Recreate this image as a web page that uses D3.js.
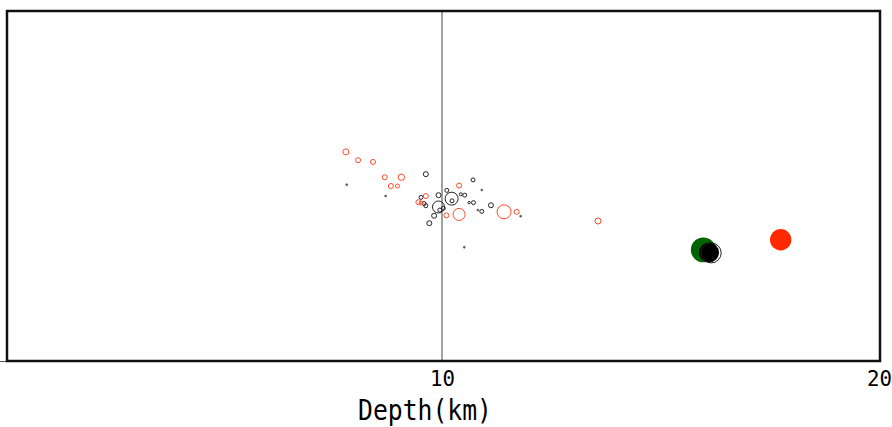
<!DOCTYPE html>
<html><head><meta charset="utf-8">
<script src="https://cdn.jsdelivr.net/npm/d3@7"></script>
<style>html,body{margin:0;padding:0;background:#fff;}svg{display:block;}</style>
</head><body>
<script>
// Data: [depth km, offset, magnitude]
const redOpen = [
 [7.80,4.78,0.67],[8.08,4.59,0.5],[8.42,4.55,0.5],[8.69,4.20,0.5],[9.07,4.20,0.73],
 [8.83,4.00,0.5],[8.98,4.00,0.33],[9.63,3.77,0.5],[9.46,3.63,0.5],[9.52,3.61,0.33],
 [10.39,4.01,0.5],[10.10,3.33,0.5],[10.39,3.35,1.67],[11.42,3.41,2.0],[11.71,3.41,0.5],
 [13.57,3.20,0.67]
];
const blackOpen = [
 [9.63,4.27,0.5],[9.92,3.79,0.5],[10.11,3.90,0.33],[10.22,3.71,1.83],[10.23,3.66,0.33],
 [9.52,3.74,0.33],[9.59,3.60,0.33],[9.63,3.55,0.33],[9.92,3.52,1.67],[9.82,3.32,0.5],
 [9.95,3.45,0.33],[10.03,3.49,0.33],[9.71,3.15,0.5],[10.71,4.14,0.33],[10.52,3.79,0.33],
 [10.43,3.81,0.17],[10.72,3.62,0.33],[10.62,3.62,0.07],[11.12,3.56,0.5],[10.91,3.42,0.33],
 [16.16,2.47,3.0]
];
const tinyDots = [
 [7.82,4.03,0],[8.71,3.77,0],[10.91,3.91,0],[10.82,3.45,0],[10.51,2.60,0],[11.80,3.31,0]
];
const mainEvents = [
 {depth:15.98, offset:2.54, mag:3.83, color:"#006400"},
 {depth:16.11, offset:2.48, mag:3.0, color:"#000000"},
 {depth:17.75, offset:2.77, mag:3.23, color:"#ff2a00"}
];
const xTicks = [10, 20];
const xLabel = "Depth(km)";

const W = 892, H = 427;
const svg = d3.select("body").append("svg").attr("width", W).attr("height", H);
const x = d3.scaleLinear().domain([0, 20]).range([5, 879]);
const y = d3.scaleLinear().domain([0, 8]).range([361, 11]);
const r = d3.scaleLinear().domain([0, 4]).range([1, 13]);

// vertical reference line at 10 km
svg.append("line").attr("x1", x(10)).attr("x2", x(10)).attr("y1", 11).attr("y2", 361)
  .attr("stroke", "#444").attr("stroke-width", 1);

// y axis stub tick
const yAxis = d3.axisLeft(y).tickValues([0]).tickSize(6).tickFormat("");
const gy = svg.append("g").attr("transform", "translate(6,0)").call(yAxis);
gy.select(".domain").remove();
gy.selectAll("line").attr("stroke", "#555");

// x axis
const xAxis = d3.axisBottom(x).tickValues(xTicks).tickSize(0).tickPadding(5).tickFormat(d3.format("d"));
const gx = svg.append("g").attr("transform", "translate(0,361)").call(xAxis);
gx.select(".domain").remove();
gx.selectAll("text").attr("font-family", "DejaVu Sans Mono").attr("font-size", 22).attr("fill", "#000")
  .attr("dy", "0.92em").attr("textLength", 25).attr("lengthAdjust", "spacingAndGlyphs");

svg.append("text").attr("x", 425).attr("y", 420).attr("text-anchor", "middle")
  .attr("font-family", "DejaVu Sans Mono").attr("font-size", 29).attr("fill", "#000")
  .attr("textLength", 134).attr("lengthAdjust", "spacingAndGlyphs").text(xLabel);

// main events (filled)
svg.append("g").selectAll("circle").data(mainEvents).join("circle")
  .attr("cx", d => x(d.depth)).attr("cy", d => y(d.offset)).attr("r", d => r(d.mag))
  .attr("fill", d => d.color);

// tiny dots
svg.append("g").selectAll("circle").data(tinyDots).join("circle")
  .attr("cx", d => x(d[0])).attr("cy", d => y(d[1])).attr("r", d => r(d[2]))
  .attr("fill", "#555").attr("stroke", "#555").attr("stroke-width", 0.6);

// black open
svg.append("g").selectAll("circle").data(blackOpen).join("circle")
  .attr("cx", d => x(d[0])).attr("cy", d => y(d[1])).attr("r", d => r(d[2]))
  .attr("fill", "none").attr("stroke", "#222").attr("stroke-width", 1);

// red open
svg.append("g").selectAll("circle").data(redOpen).join("circle")
  .attr("cx", d => x(d[0])).attr("cy", d => y(d[1])).attr("r", d => r(d[2]))
  .attr("fill", "none").attr("stroke", "#ff4a2a").attr("stroke-width", 1);

// frame
svg.append("rect").attr("x", 7).attr("y", 11).attr("width", 873).attr("height", 350)
  .attr("fill", "none").attr("stroke", "#111").attr("stroke-width", 2.5);
</script>
</body></html>
